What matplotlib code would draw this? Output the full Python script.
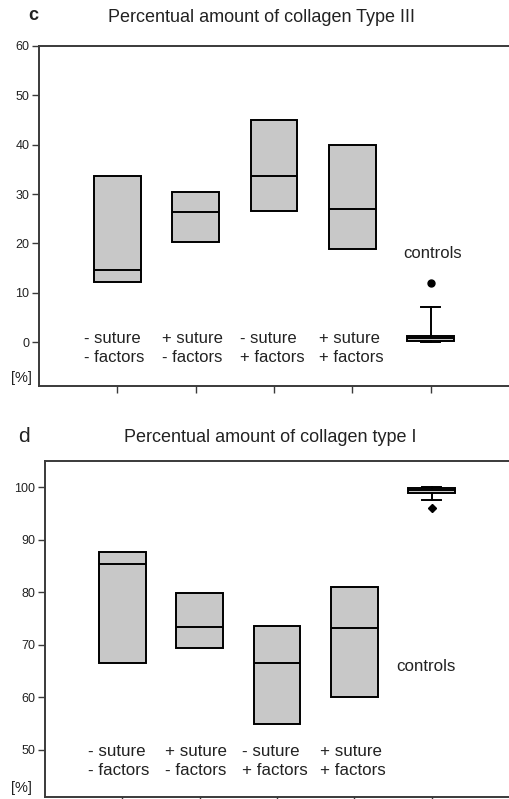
import matplotlib
matplotlib.use("Agg")
import matplotlib.pyplot as plt

plt.rcParams['font.family'] = ['Liberation Sans', 'DejaVu Sans']

groups = ["- suture\n- factors", "+ suture\n- factors", "- suture\n+ factors", "+ suture\n+ factors"]

# Collagen type III (%): q1, median, q3 per group
t3_q1 = [12.2, 20.3, 26.6, 18.9]
t3_med = [14.6, 26.4, 33.7, 27.0]
t3_q3 = [33.7, 30.4, 45.0, 40.0]
t3_ctrl = dict(q1=0.3, med=0.8, q3=1.2, whislo=0.0, whishi=7.1, fliers=[12.0])

# Collagen type I (%)
t1_q1 = [66.5, 69.4, 54.9, 60.0]
t1_med = [85.3, 73.4, 66.5, 73.1]
t1_q3 = [87.7, 79.9, 73.5, 81.0]
t1_ctrl = dict(q1=99.0, med=99.5, q3=99.9, whislo=97.5, whishi=100.0, fliers=[96.0])

W, H = 509, 799
fig = plt.figure(figsize=(W / 100, H / 100), dpi=100)

box_face = '#c8c8c8'
spine_col = '#3a3a3a'
txt_col = '#222222'


def panel(rect, q1s, meds, q3s, ctrl, ylim, yticks, ctrl_flier_marker, msize):
    ax = fig.add_axes(rect)
    stats = [dict(q1=a, med=m, q3=b, whislo=a, whishi=b, fliers=[]) for a, m, b in zip(q1s, meds, q3s)]
    ax.bxp(stats, positions=[1, 2, 3, 4], widths=0.6, patch_artist=True,
           showcaps=False, showfliers=False,
           boxprops=dict(facecolor=box_face, edgecolor='black', linewidth=1.4),
           medianprops=dict(color='black', linewidth=1.4),
           whiskerprops=dict(linewidth=0))
    c = dict(ctrl)
    ax.bxp([c], positions=[5], widths=0.6, patch_artist=True, showcaps=True,
           showfliers=True, capwidths=0.25,
           boxprops=dict(facecolor=box_face, edgecolor='black', linewidth=1.4),
           medianprops=dict(color='black', linewidth=1.4),
           whiskerprops=dict(color='black', linewidth=1.4),
           capprops=dict(color='black', linewidth=1.4),
           flierprops=dict(marker=ctrl_flier_marker, markerfacecolor='black',
                           markeredgecolor='black', markersize=msize))
    ax.set_xlim(0, 6)
    ax.set_ylim(*ylim)
    ax.set_yticks(yticks)
    ax.set_yticklabels([str(v) for v in yticks], fontsize=9, color=txt_col)
    ax.set_xticks([1, 2, 3, 4, 5])
    ax.set_xticklabels([])
    for s in ax.spines.values():
        s.set_color(spine_col)
        s.set_linewidth(1.4)
    ax.spines['right'].set_visible(False)
    ax.tick_params(axis='both', direction='out', length=5, width=1.0, color=spine_col, pad=2)
    return ax


# Top panel
ax1 = panel([39 / W, 1 - 386 / H, 1 - 39 / W, (386 - 46) / H],
            t3_q1, t3_med, t3_q3, t3_ctrl, (-8.9, 60), [0, 10, 20, 30, 40, 50, 60], 'o', 5)
for i, g in enumerate(groups):
    ax1.text(i + 1 - 0.43, -1.2, g, ha='left', va='center', fontsize=12,
             color=txt_col, linespacing=1.3)
ax1.text(5.03, 18.0, "controls", ha='center', va='center', fontsize=12, color=txt_col)

# Bottom panel
ax2 = panel([45 / W, 1 - 797 / H, 1 - 45 / W, (797 - 461) / H],
            t1_q1, t1_med, t1_q3, t1_ctrl, (41, 105), [50, 60, 70, 80, 90, 100], 'D', 4.5)
for i, g in enumerate(groups):
    ax2.text(i + 1 - 0.45, 47.8, g, ha='left', va='center', fontsize=12.2,
             color=txt_col, linespacing=1.3)
ax2.text(4.92, 65.8, "controls", ha='center', va='center', fontsize=12.2, color=txt_col)

# Panel titles / letters
fig.text(33 / W, 1 - 15 / H, "c", ha='center', va='center', fontsize=13, fontweight='bold', color=txt_col)
fig.text(262 / W, 1 - 18 / H, "Percentual amount of collagen Type III", ha='center', va='center',
         fontsize=13, color=txt_col)
fig.text(24 / W, 1 - 437 / H, "d", ha='center', va='center', fontsize=15, color=txt_col)
fig.text(270 / W, 1 - 437 / H, "Percentual amount of collagen type I", ha='center', va='center',
         fontsize=13, color=txt_col)

# [%] unit labels
fig.text(21 / W, 1 - 378 / H, "[%]", ha='center', va='center', fontsize=10.5, color=txt_col)
fig.text(21 / W, 1 - 788 / H, "[%]", ha='center', va='center', fontsize=10.5, color=txt_col)

fig.savefig("out.png", dpi=100)
